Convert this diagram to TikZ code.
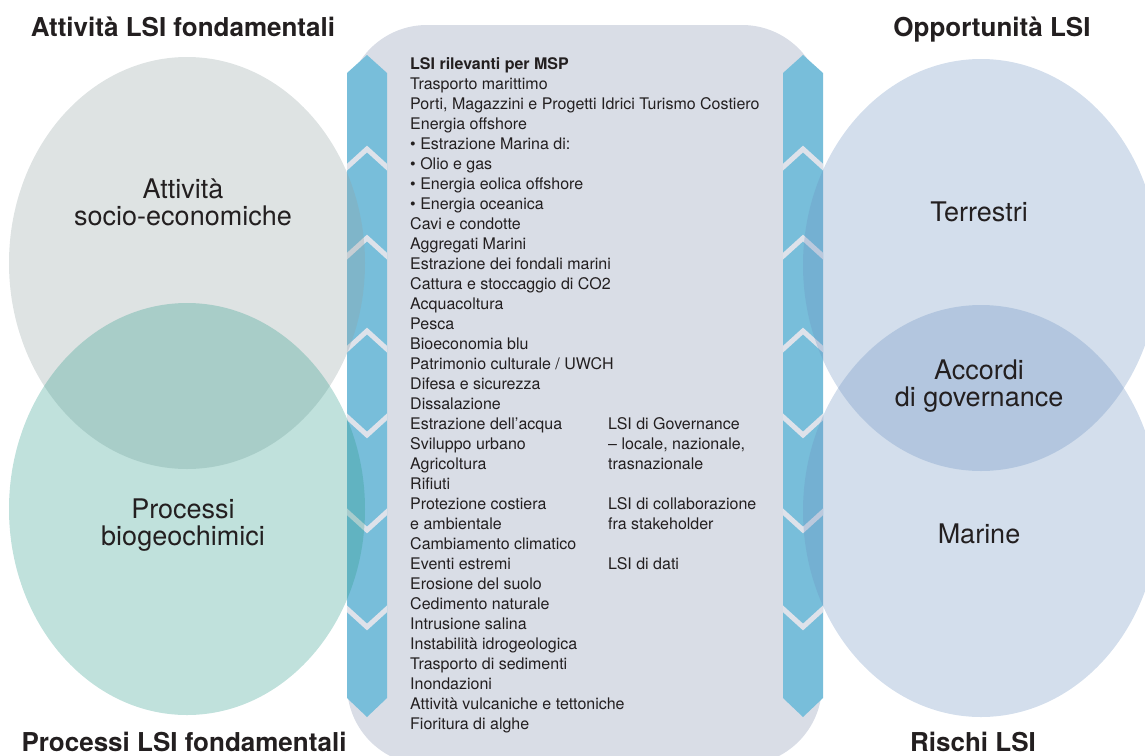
\documentclass[tikz,border=0pt]{standalone}
\usepackage{fontspec}
\setmainfont{TeX Gyre Heros}
\definecolor{boxc}{RGB}{217,221,230}
\definecolor{colc}{RGB}{120,190,218}
\definecolor{gapc}{RGB}{222,226,234}
\definecolor{ltop}{RGB}{145,162,162}
\definecolor{lbot}{RGB}{45,155,138}
\definecolor{rell}{RGB}{108,145,192}
\definecolor{txt}{RGB}{35,31,32}
\begin{document}
\begin{tikzpicture}[x=1pt,y=-1pt,
  body/.style={font=\fontsize{16}{20}\selectfont, text=txt, inner sep=0pt, anchor=base west},
  titlelab/.style={font=\fontsize{26}{30}\selectfont\bfseries, text=txt, inner sep=0pt, anchor=base},
  ellab/.style={font=\fontsize{27}{27}\selectfont, text=txt, inner sep=0pt, anchor=base},
  ellfill/.style={fill opacity=0.3},
  gapline/.style={draw=gapc, line width=5pt, line join=miter}]
\useasboundingbox (0,0) rectangle (1145,755);
\clip (0,0) rectangle (1145,755);
% central box
\fill[boxc, rounded corners=80pt] (347,25) rectangle (822,765);
% arrow columns with chevron gaps
\foreach \dx in {0,436}{
  \fill[colc] (347+\dx,73) -- (367+\dx,55) -- (387+\dx,73) -- (387+\dx,698) -- (367+\dx,717) -- (347+\dx,698) -- cycle;
  \begin{scope}
    \clip (347+\dx,73) -- (367+\dx,55) -- (387+\dx,73) -- (387+\dx,698) -- (367+\dx,717) -- (347+\dx,698) -- cycle;
    \draw[gapline] (345+\dx,169) -- (367+\dx,149) -- (389+\dx,169);
    \draw[gapline] (345+\dx,258) -- (367+\dx,238) -- (389+\dx,258);
    \draw[gapline] (345+\dx,351) -- (367+\dx,331) -- (389+\dx,351);
    \draw[gapline] (345+\dx,415) -- (367+\dx,435) -- (389+\dx,415);
    \draw[gapline] (345+\dx,510) -- (367+\dx,530) -- (389+\dx,510);
    \draw[gapline] (345+\dx,607) -- (367+\dx,627) -- (389+\dx,607);
  \end{scope}
}
% ellipses
\fill[ltop, ellfill] (187,263) ellipse [x radius=178pt, y radius=206pt];
\fill[lbot, ellfill] (187,509) ellipse [x radius=178pt, y radius=206pt];
\fill[rell, ellfill] (981,265) ellipse [x radius=178pt, y radius=206pt];
\fill[rell, ellfill] (981,511) ellipse [x radius=178pt, y radius=206pt];
% titles
\node[titlelab] (t1) at (183,36) {Attività LSI fondamentali};
\node[titlelab] (t2) at (992,36) {Opportunità LSI};
\node[titlelab] (t3) at (184,751) {Processi LSI fondamentali};
\node[titlelab] (t4) at (973,751) {Rischi LSI};
% ellipse labels
\node[ellab] (a1) at (183,198) {Attività};
\node[ellab] (a2) at (183,225) {socio-economiche};
\node[ellab] (p1) at (183,518) {Processi};
\node[ellab] (p2) at (183,545) {biogeochimici};
\node[ellab] (te) at (979,221) {Terrestri};
\node[ellab] (ac1) at (979,379) {Accordi};
\node[ellab] (ac2) at (979,406) {di governance};
\node[ellab] (ma) at (979,543) {Marine};
% list
\foreach \itm [count=\i] in {
  {\bfseries LSI rilevanti per MSP},
  {Trasporto marittimo},
  {Porti, Magazzini e Progetti Idrici Turismo Costiero},
  {Energia offshore},
  {\textbullet\ Estrazione Marina di:},
  {\textbullet\ Olio e gas},
  {\textbullet\ Energia eolica offshore},
  {\textbullet\ Energia oceanica},
  {Cavi e condotte},
  {Aggregati Marini},
  {Estrazione dei fondali marini},
  {Cattura e stoccaggio di CO2},
  {Acquacoltura},
  {Pesca},
  {Bioeconomia blu},
  {Patrimonio culturale / UWCH},
  {Difesa e sicurezza},
  {Dissalazione},
  {Estrazione dell’acqua},
  {Sviluppo urbano},
  {Agricoltura},
  {Rifiuti},
  {Protezione costiera},
  {e ambientale},
  {Cambiamento climatico},
  {Eventi estremi},
  {Erosione del suolo},
  {Cedimento naturale},
  {Intrusione salina},
  {Instabilità idrogeologica},
  {Trasporto di sedimenti},
  {Inondazioni},
  {Attività vulcaniche e tettoniche},
  {Fioritura di alghe}}{
  \node[body] (l\i) at (410,49+20*\i) {\itm};
}
\node[body] (g1) at (608,429) {LSI di Governance};
\node[body] (g2) at (608,449) {– locale, nazionale,};
\node[body] (g3) at (608,469) {trasnazionale};
\node[body] (c1) at (608,509) {LSI di collaborazione};
\node[body] (c2) at (608,529) {fra stakeholder};
\node[body] (d1) at (608,569) {LSI di dati};
\end{tikzpicture}
\end{document}
